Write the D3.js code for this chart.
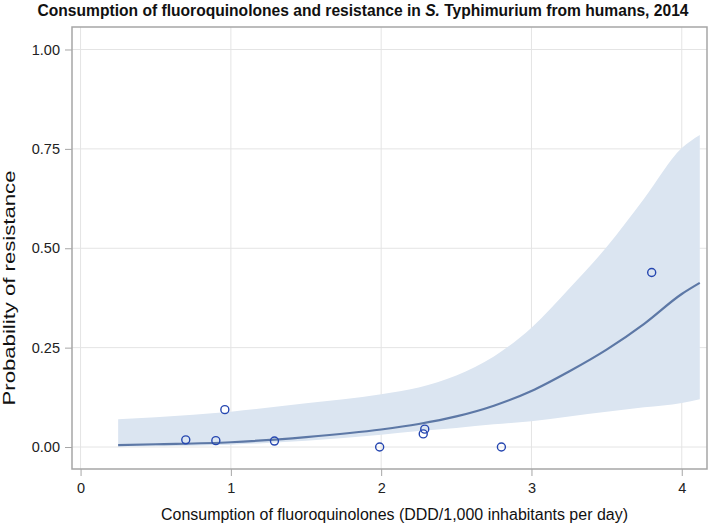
<!DOCTYPE html>
<html>
<head>
  <meta charset="utf-8">
  <title>Fluoroquinolones and resistance</title>
  <script src="https://d3js.org/d3.v7.min.js"></script>
  <style>
    body { margin: 0; background: #fff; }
    svg { font-family: "Liberation Sans", Arial, sans-serif; }
    .grid line { stroke: #e4e4e4; stroke-width: 1px; }
    .frame { fill: none; stroke: #a6a6a6; stroke-width: 1.5px; }
    .tick text { font-size: 14.5px; fill: #222; }
    .tick line { stroke: #a6a6a6; }
    .band { fill: #dbe5f1; }
    .fit { fill: none; stroke: #5d78a6; stroke-width: 2.2px; }
    .obs { fill: none; stroke: #2546b0; stroke-width: 1.4px; }
  </style>
</head>
<body>
  <svg></svg>
  <script>
    // observed countries: consumption vs proportion resistant
    var obsX = [0.70, 0.90, 0.96, 1.29, 1.99, 2.28, 2.29, 2.80, 3.80];
    var obsY = [0.018, 0.016, 0.094, 0.015, 0.000, 0.033, 0.045, 0.000, 0.439];

    // fitted curve and confidence band
    var fitX = [0.25, 0.5, 1.0, 1.5, 2.0, 2.25, 2.5, 2.75, 3.0, 3.25, 3.5, 3.75, 4.0, 4.12];
    var fitY = [0.005, 0.007, 0.012, 0.025, 0.044, 0.058, 0.077, 0.104, 0.141, 0.190, 0.245, 0.310, 0.385, 0.413];
    var bandLow = [0.001, 0.002, 0.006, 0.016, 0.031, 0.040, 0.048, 0.057, 0.065, 0.077, 0.089, 0.100, 0.111, 0.120];
    var bandHigh = [0.070, 0.075, 0.089, 0.110, 0.133, 0.150, 0.180, 0.228, 0.300, 0.398, 0.503, 0.625, 0.752, 0.785];

    var xTicks = [0, 1, 2, 3, 4];
    var yTicks = [0, 0.25, 0.5, 0.75, 1];

    var svgWidth = 709, svgHeight = 524,
      plot = { left: 72, right: 707, top: 27, bottom: 469 };

    var svg = d3.select("svg")
      .attr("width", svgWidth)
      .attr("height", svgHeight);

    var x = d3.scaleLinear().domain([-0.057, 4.168]).range([plot.left, plot.right]);
    var y = d3.scaleLinear().domain([-0.0553, 1.0566]).range([plot.bottom, plot.top]);

    // grid
    var grid = svg.append("g").classed("grid", true);
    grid.selectAll(".gx").data(xTicks).enter().append("line")
      .attr("x1", d => x(d)).attr("x2", d => x(d))
      .attr("y1", plot.top).attr("y2", plot.bottom);
    grid.selectAll(".gy").data(yTicks).enter().append("line")
      .attr("y1", d => y(d)).attr("y2", d => y(d))
      .attr("x1", plot.left).attr("x2", plot.right);

    var fitData = fitX.map(function (v, i) {
      return { x: v, y: fitY[i], lo: bandLow[i], hi: bandHigh[i] };
    });

    svg.append("path")
      .classed("band", true)
      .datum(fitData)
      .attr("d", d3.area()
        .x(d => x(d.x))
        .y0(d => y(d.lo))
        .y1(d => y(d.hi))
        .curve(d3.curveMonotoneX));

    svg.append("path")
      .classed("fit", true)
      .datum(fitData)
      .attr("d", d3.line()
        .x(d => x(d.x))
        .y(d => y(d.y))
        .curve(d3.curveMonotoneX));

    svg.selectAll(".obs")
      .data(obsX)
      .enter()
      .append("circle")
      .classed("obs", true)
      .attr("cx", d => x(d))
      .attr("cy", (d, i) => y(obsY[i]))
      .attr("r", 4);

    // axes
    svg.append("g")
      .attr("transform", "translate(0," + plot.bottom + ")")
      .call(d3.axisBottom(x).tickValues(xTicks).tickFormat(d3.format("d")).tickSize(7).tickPadding(7))
      .call(g => g.select(".domain").remove());

    svg.append("g")
      .attr("transform", "translate(" + plot.left + ",0)")
      .call(d3.axisLeft(y).tickValues(yTicks).tickFormat(d3.format(".2f")).tickSize(7).tickPadding(5))
      .call(g => g.select(".domain").remove());

    svg.append("rect")
      .classed("frame", true)
      .attr("x", plot.left).attr("y", plot.top)
      .attr("width", plot.right - plot.left)
      .attr("height", plot.bottom - plot.top);

    // fit a text to a wanted width by scaling its font size
    function fitFont(sel, base, width) {
      sel.style("font-size", base + "px");
      var w = sel.node().getComputedTextLength();
      sel.style("font-size", (base * width / w).toFixed(2) + "px");
    }

    // titles
    var title = svg.append("text")
      .attr("x", 363).attr("y", 16)
      .attr("text-anchor", "middle")
      .style("font-weight", "bold")
      .style("fill", "#111");
    title.append("tspan").text("Consumption of fluoroquinolones and resistance in ");
    title.append("tspan").style("font-style", "italic").text("S.");
    title.append("tspan").text(" Typhimurium from humans, 2014");
    fitFont(title, 14, 651);

    var xTitle = svg.append("text")
      .attr("x", 394.5).attr("y", 520)
      .attr("text-anchor", "middle")
      .style("fill", "#111")
      .text("Consumption of fluoroquinolones (DDD/1,000 inhabitants per day)");
    fitFont(xTitle, 15, 467);

    // the y title is drawn somewhat long in the original
    svg.append("text")
      .attr("transform", "translate(15,288) rotate(-90)")
      .attr("text-anchor", "middle")
      .attr("textLength", 235)
      .attr("lengthAdjust", "spacingAndGlyphs")
      .style("font-size", "16px")
      .style("fill", "#111")
      .text("Probability of resistance");
  </script>
</body>
</html>
